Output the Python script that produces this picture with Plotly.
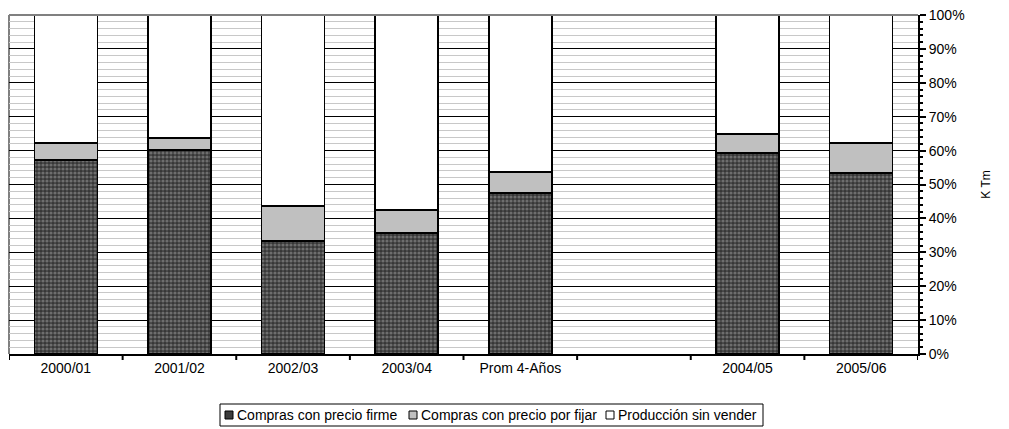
import plotly.graph_objects as go

categories = ["2000/01", "2001/02", "2002/03", "2003/04", "Prom 4-Años", "", "2004/05", "2005/06"]
firme = [57.2, 60.2, 33.3, 35.7, 47.5, None, 59.3, 53.4]
por_fijar = [5.0, 3.5, 10.4, 6.8, 6.2, None, 5.6, 8.8]
sin_vender = [37.8, 36.3, 56.3, 57.5, 46.3, None, 35.1, 37.8]
y_ticks = [0, 10, 20, 30, 40, 50, 60, 70, 80, 90, 100]
y_labels = [f"{v}%" for v in y_ticks]
series_names = ["Compras con precio firme", "Compras con precio por fijar", "Producción sin vender"]
series_colors = ["#3c3c3c", "#c0c0c0", "#ffffff"]

FONT = "Liberation Sans, Arial, sans-serif"
xpos = list(range(len(categories)))
boundaries = [i - 0.5 for i in range(len(categories) + 1)]

fig = go.Figure()
fig.add_trace(go.Bar(
    x=xpos, y=firme, name=series_names[0],
    marker=dict(color=series_colors[0], line=dict(color="black", width=1.5),
                pattern=dict(shape=".", fgcolor="#6e6e6e", bgcolor="#363636", size=4, solidity=0.5, fillmode="replace")),
))
fig.add_trace(go.Bar(
    x=xpos, y=por_fijar, name=series_names[1],
    marker=dict(color=series_colors[1], line=dict(color="black", width=1.5)),
))
fig.add_trace(go.Bar(
    x=xpos, y=sin_vender, name=series_names[2],
    marker=dict(color=series_colors[2], line=dict(color="black", width=1.5)),
))

# plot area: x 9..918 px, y 15..354 px
PW, PH, L, T = 909, 339, 9, 15
def px2x(p):
    return (p - L) / PW
def py2y(p):
    return (T + PH - p) / PH

xr = [-0.5, len(categories) - 0.5]
fig.update_layout(
    template="none",
    barmode="stack",
    bargap=0.445,
    width=1009, height=429,
    margin=dict(l=9, r=91, t=15, b=75, pad=0),
    paper_bgcolor="white", plot_bgcolor="white",
    font=dict(family=FONT, size=14, color="black"),
    showlegend=False,
    hovermode=False,
    xaxis=dict(range=xr, tickvals=xpos, ticktext=categories,
               showline=True, linecolor="black", linewidth=2, automargin=False,
               ticks="", showgrid=False, zeroline=False, showspikes=False,
               tickfont=dict(size=14)),
    yaxis=dict(side="right", range=[0, 100], tickvals=y_ticks, ticktext=y_labels, automargin=False,
               showline=True, linecolor="black", linewidth=2,
               ticks="outside", ticklen=6, tickwidth=2, tickcolor="black",
               showgrid=True, gridcolor="black", gridwidth=1,
               minor=dict(dtick=2, showgrid=True, gridcolor="#c8c8c8", gridwidth=1,
                          ticks="outside", ticklen=3, tickwidth=2, tickcolor="black"),
               zeroline=False, tickfont=dict(size=14),
               title=dict(text="K Tm", standoff=18, font=dict(size=12))),
)

# category-boundary tick marks below the x axis
for b in boundaries:
    fig.add_shape(type="line", xref="x", yref="paper", x0=b, x1=b, y0=0, y1=-6 / PH,
                  line=dict(color="black", width=2), layer="above")

# plot-area border (top and left) in gray
fig.add_shape(type="line", xref="paper", yref="paper", x0=0, x1=1, y0=1, y1=1,
              line=dict(color="#808080", width=2), layer="above")
fig.add_shape(type="line", xref="paper", yref="paper", x0=0, x1=0, y0=0, y1=1,
              line=dict(color="#808080", width=2), layer="below")

# custom compact legend
fig.add_shape(type="rect", xref="paper", yref="paper",
              x0=px2x(220), x1=px2x(763), y0=py2y(426), y1=py2y(404),
              line=dict(color="black", width=1), fillcolor="white")
sym_x = [225, 409, 606]
for i, name in enumerate(series_names):
    x0 = sym_x[i]
    fig.add_shape(type="rect", xref="paper", yref="paper",
                  x0=px2x(x0), x1=px2x(x0 + 8), y0=py2y(419), y1=py2y(411),
                  line=dict(color="black", width=1), fillcolor=series_colors[i])
    fig.add_annotation(xref="paper", yref="paper", x=px2x(x0 + 11), y=py2y(415),
                       text=name, showarrow=False, xanchor="left", yanchor="middle",
                       font=dict(size=14, family=FONT), borderpad=0)

fig.write_html("out.html", config={"displayModeBar": False, "staticPlot": True},
               post_script="document.body.style.margin='0';document.body.style.padding='0';")
